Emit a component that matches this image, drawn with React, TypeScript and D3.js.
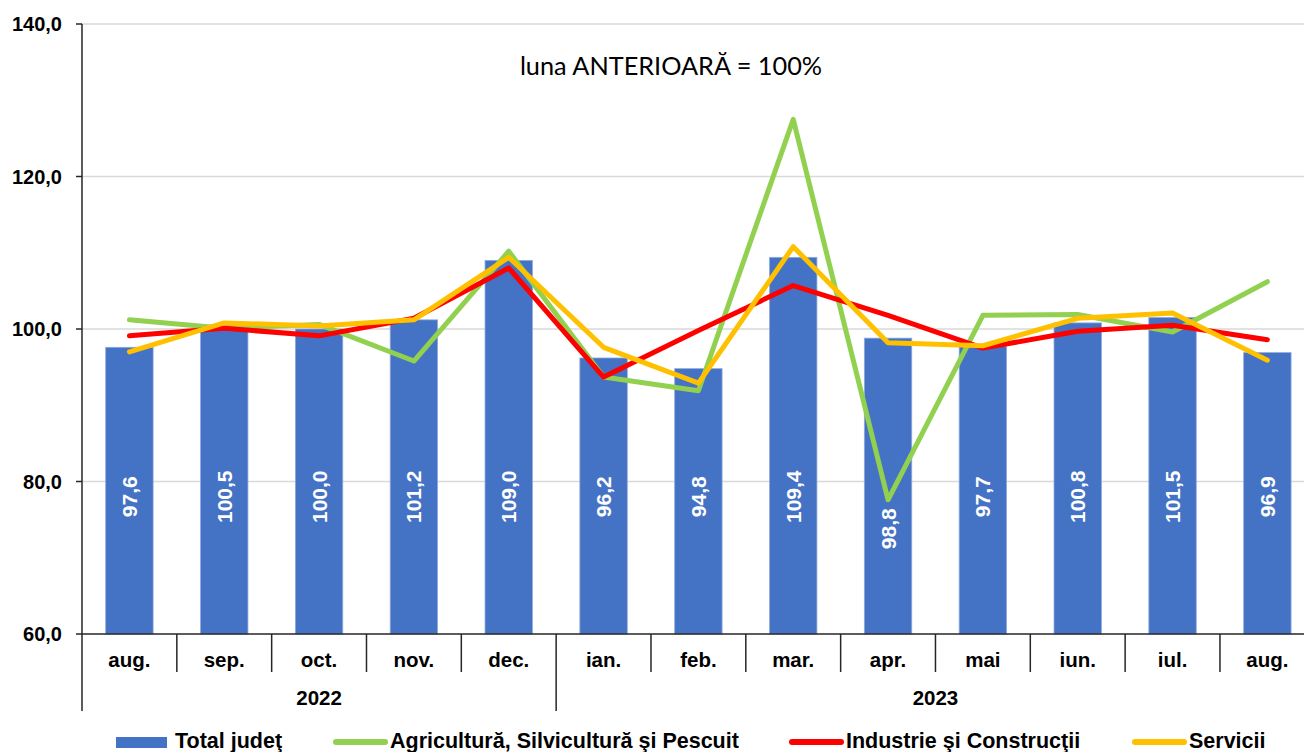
import React from "react";
import * as d3 from "d3";

// categories (month) and year groups
const months = ["aug.", "sep.", "oct.", "nov.", "dec.", "ian.", "feb.", "mar.", "apr.", "mai", "iun.", "iul.", "aug."];
const years = [
  { label: "2022", from: 0, to: 5 },
  { label: "2023", from: 5, to: 13 },
];

// series, luna anterioara = 100%
const total = [97.6, 100.5, 100.0, 101.2, 109.0, 96.2, 94.8, 109.4, 98.8, 97.7, 100.8, 101.5, 96.9];
const agricultura = [101.2, 100.1, 100.6, 95.8, 110.2, 93.7, 91.9, 127.5, 77.6, 101.8, 101.9, 99.6, 106.2];
const industrie = [99.1, 100.1, 99.1, 101.4, 108.0, 93.7, 99.8, 105.7, 101.8, 97.5, 99.7, 100.5, 98.6];
const servicii = [97.0, 100.8, 100.4, 101.2, 109.4, 97.6, 92.9, 110.8, 98.2, 97.8, 101.4, 102.1, 95.9];

const yTicks = [60, 80, 100, 120, 140];

const W = 1304;
const H = 752;
const left = 82;
const step = 94.83;
const font = "'Liberation Sans', Arial, sans-serif";

const App = () => {
  const x = d3
    .scaleBand<number>()
    .domain(months.map((_, i) => i))
    .range([left, left + step * months.length])
    .paddingInner(0.5)
    .paddingOuter(0.25);
  const y = d3.scaleLinear().domain([60, 140]).range([634, 24]);
  const cx = (i: number) => (x(i) as number) + x.bandwidth() / 2;
  const band0 = (i: number) => left + step * i;

  const line = d3
    .line<number>()
    .x((_, i) => cx(i))
    .y(d => y(d));

  const series = [
    { name: "Agricultură, Silvicultură şi Pescuit", data: agricultura, color: "#92D050" },
    { name: "Industrie şi Construcţii", data: industrie, color: "#FF0000" },
    { name: "Servicii", data: servicii, color: "#FFC000" },
  ];

  const fmt = (v: number) => v.toFixed(1).replace(".", ",");

  return (
    <svg width={W} height={H} style={{ position: "absolute", left: 0, top: 0, background: "#fff" }}>
      {/* grid */}
      {yTicks.filter(t => t > 60).map(t => (
        <line key={t} x1={left} x2={W} y1={y(t)} y2={y(t)} stroke="#d9d9d9" strokeWidth={1.5} />
      ))}

      {/* bars */}
      {total.map((v, i) => (
        <rect
          key={i}
          x={x(i)}
          y={y(v)}
          width={x.bandwidth()}
          height={y(60) - y(v)}
          fill="#4472C4"
          stroke="#8FAADC"
          strokeWidth={0.8}
        />
      ))}

      {/* bar labels */}
      {total.map((v, i) => {
        const ly = i === 8 ? y(73.8) : y(78);
        return (
          <text
            key={i}
            transform={`translate(${cx(i)},${ly}) rotate(-90)`}
            textAnchor="middle"
            dominantBaseline="central"
            fill="#fff"
            fontFamily={font}
            fontWeight="bold"
            fontSize={21}
          >
            {fmt(v)}
          </text>
        );
      })}

      {/* lines */}
      {series.map(s => (
        <path key={s.name} d={line(s.data) || ""} fill="none" stroke={s.color} strokeWidth={5} strokeLinejoin="round" strokeLinecap="round" />
      ))}

      {/* axes */}
      <line x1={left} x2={W} y1={y(60)} y2={y(60)} stroke="#262626" strokeWidth={1.5} />
      <line x1={left} x2={left} y1={y(140)} y2={711} stroke="#262626" strokeWidth={1.5} />
      {yTicks.map(t => (
        <g key={t}>
          <line x1={left - 6} x2={left} y1={y(t)} y2={y(t)} stroke="#262626" strokeWidth={1.5} />
          <text x={62} y={y(t)} textAnchor="end" dominantBaseline="central" fontFamily={font} fontWeight="bold" fontSize={20} fill="#000">
            {fmt(t)}
          </text>
        </g>
      ))}

      {/* category separators and labels */}
      {months.map((m, i) => (
        <g key={i}>
          {i > 0 && (
            <line
              x1={band0(i)}
              x2={band0(i)}
              y1={y(60)}
              y2={years.some(g => g.from === i) ? 711 : 672}
              stroke="#262626"
              strokeWidth={1.5}
            />
          )}
          <text x={cx(i)} y={667} textAnchor="middle" fontFamily={font} fontWeight="bold" fontSize={20.5} fill="#000">
            {m}
          </text>
        </g>
      ))}
      {years.map(g => (
        <text
          key={g.label}
          x={(band0(g.from) + band0(g.to)) / 2}
          y={705}
          textAnchor="middle"
          fontFamily={font}
          fontWeight="bold"
          fontSize={20.5}
          fill="#000"
        >
          {g.label}
        </text>
      ))}

      {/* title */}
      <text x={671} y={75} textAnchor="middle" fontFamily="Lato, 'Open Sans', sans-serif" fontSize={25.3} fill="#000">
        luna ANTERIOARĂ = 100%
      </text>

      {/* legend */}
      <g fontFamily={font} fontWeight="bold" fontSize={21.5} fill="#000">
        <rect x={116} y={737} width={51} height={11} fill="#4472C4" />
        <text x={175} y={748}>Total judeţ</text>
        {series.map((s, k) => {
          const lx = [333, 789, 1132][k];
          return (
            <g key={s.name}>
              <line x1={lx + 3} x2={lx + 52} y1={742} y2={742} stroke={s.color} strokeWidth={6} strokeLinecap="round" />
              <text x={lx + 57} y={748}>{s.name}</text>
            </g>
          );
        })}
      </g>
    </svg>
  );
};

export default App;
